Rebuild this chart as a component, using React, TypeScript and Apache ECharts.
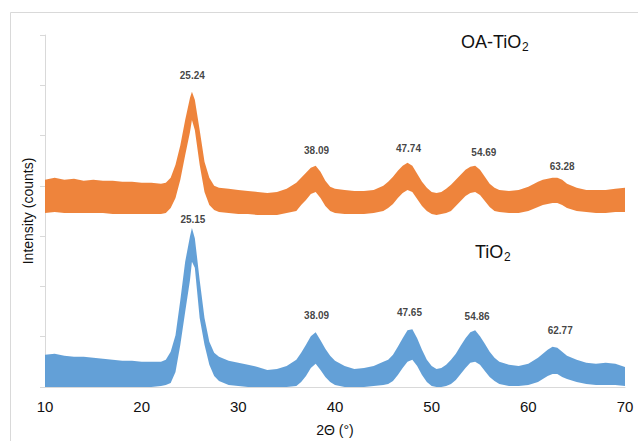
import React, { useEffect, useRef } from "react";
import * as echarts from "echarts";

// 2θ sample positions (degrees)
const twoTheta = [
  10, 11, 12, 13, 14, 15, 16, 17, 18, 19, 20, 21, 22, 22.5, 23, 23.5, 24, 24.5, 25, 25.2, 25.5, 26, 26.5, 27, 27.5, 28,
  29, 30, 31, 32, 33, 34, 35, 36, 36.5, 37, 37.5, 38, 38.5, 39, 39.5, 40, 41, 42, 43, 44, 45, 45.5, 46, 46.5, 47, 47.5,
  48, 48.5, 49, 49.5, 50, 50.5, 51, 51.5, 52, 52.5, 53, 53.5, 54, 54.5, 55, 55.5, 56, 56.5, 57, 58, 59, 60, 61, 61.5,
  62, 62.5, 63, 63.5, 64, 65, 66, 67, 68, 69, 70,
];

// TiO2: upper and lower edges of the scattered band (counts)
const tio2Upper = [
  640, 660, 620, 600, 600, 580, 560, 540, 520, 520, 500, 500, 500, 540, 700, 1030, 1730, 2490, 3000, 3160, 2960, 2130, 1370, 900, 680, 600,
  520, 480, 440, 400, 340, 360, 420, 540, 680, 840, 1010, 1090, 930, 760, 620, 520, 420, 360, 380, 420, 500, 540, 640, 800, 970, 1130,
  1150, 970, 740, 540, 420, 360, 380, 440, 540, 660, 820, 970, 1090, 1130, 1010, 860, 700, 580, 500, 440, 420, 460, 580, 660,
  740, 800, 780, 700, 620, 540, 480, 460, 480, 460, 400,
];
const tio2Lower = [
  0, 0, 0, 0, 0, 0, 0, 0, 0, 0, 0, 0, 20, 40, 80, 300, 840, 1490, 2130, 2490, 2370, 1370, 840, 440, 220, 120,
  40, 20, 0, 0, 0, 0, 0, 20, 100, 220, 380, 460, 340, 200, 100, 40, 0, 0, 0, 20, 40, 60, 120, 240, 380, 500,
  540, 420, 240, 100, 20, 0, 0, 20, 60, 140, 260, 380, 480, 500, 440, 320, 200, 120, 60, 20, 20, 40, 100, 160,
  220, 260, 260, 200, 160, 100, 60, 40, 40, 40, 20,
];

// OA-TiO2: upper and lower edges of the scattered band (counts)
const oaUpper = [
  4120, 4160, 4120, 4140, 4100, 4120, 4100, 4100, 4080, 4080, 4060, 4060, 4040, 4060, 4160, 4420, 4810, 5310, 5750, 5870, 5710, 5110, 4480, 4160, 4000, 3960,
  3940, 3920, 3900, 3880, 3860, 3880, 3940, 4060, 4160, 4260, 4360, 4400, 4280, 4100, 3980, 3940, 3920, 3900, 3900, 3920, 4000, 4080, 4180, 4300, 4400, 4460,
  4400, 4240, 4080, 3960, 3880, 3860, 3880, 3940, 4020, 4120, 4220, 4320, 4380, 4400, 4320, 4180, 4040, 3960, 3920, 3900, 3920, 3980, 4080, 4120,
  4140, 4160, 4160, 4120, 4040, 3960, 3920, 3920, 3920, 3940, 3960,
];
const oaLower = [
  3460, 3480, 3460, 3460, 3460, 3460, 3460, 3440, 3440, 3440, 3440, 3440, 3440, 3460, 3560, 3760, 4120, 4610, 5070, 5310, 5110, 4420, 3880, 3620, 3520, 3480,
  3460, 3440, 3440, 3420, 3420, 3420, 3460, 3500, 3620, 3720, 3840, 3880, 3760, 3600, 3500, 3460, 3440, 3440, 3440, 3460, 3500, 3560, 3640, 3760, 3860, 3920,
  3880, 3740, 3600, 3500, 3440, 3420, 3440, 3460, 3500, 3600, 3700, 3800, 3860, 3880, 3820, 3700, 3580, 3500, 3480, 3460, 3460, 3500, 3580, 3620,
  3640, 3660, 3660, 3620, 3560, 3500, 3480, 3460, 3460, 3480, 3480,
];

// peak annotations
const oaPeakText = ["25.24", "38.09", "47.74", "54.69", "63.28"];
const oaPeakX = [25.24, 38.09, 47.6, 55.4, 63.5];
const oaPeakY = [6190, 4710, 4750, 4670, 4380];
const tio2PeakText = ["25.15", "38.09", "47.65", "54.86", "62.77"];
const tio2PeakX = [25.3, 38.1, 47.7, 54.7, 63.3];
const tio2PeakY = [3340, 1430, 1490, 1410, 1130];

const yTicks = { min: 0, max: 7000, interval: 1000 };
const xTicks = { min: 10, max: 70, interval: 10 };

const ORANGE = "#ED7D31";
const BLUE = "#5B9BD5";

function bandSeries(name: string, upper: number[], lower: number[], color: string) {
  return {
    type: "custom",
    name,
    coordinateSystem: "cartesian2d",
    data: [[twoTheta[0], upper[0]]],
    silent: true,
    renderItem: (_params: any, api: any) => {
      const top = twoTheta.map((t, i) => api.coord([t, upper[i]]));
      const bottom = twoTheta.map((t, i) => api.coord([t, lower[i]])).reverse();
      return {
        type: "polygon",
        shape: { points: top.concat(bottom) },
        style: { fill: color, opacity: 0.95 },
      };
    },
  };
}

function peakSeries(texts: string[], xs: number[], ys: number[]) {
  return {
    type: "scatter",
    symbolSize: 1,
    itemStyle: { color: "transparent" },
    data: texts.map((t, i) => ({ name: t, value: [xs[i], ys[i]] })),
    label: {
      show: true,
      position: "inside",
      formatter: (p: any) => p.name,
      fontSize: 10,
      fontWeight: "bold",
      color: "#111",
      fontFamily: "Liberation Sans, Arial, sans-serif",
    },
    silent: true,
    z: 5,
  };
}

export default function App() {
  const ref = useRef<HTMLDivElement>(null);
  useEffect(() => {
    if (!ref.current) return;
    const chart = echarts.init(ref.current, null, { renderer: "svg" });
    const font = "Liberation Sans, Arial, sans-serif";
    chart.setOption({
      animation: false,
      backgroundColor: "#fff",
      grid: { left: 45, right: 13, top: 35, bottom: 54, containLabel: false },
      xAxis: {
        type: "value",
        min: xTicks.min,
        max: xTicks.max,
        interval: xTicks.interval,
        axisLine: { show: true, lineStyle: { color: "#d9d9d9", width: 1 } },
        axisTick: { show: false },
        splitLine: { show: false },
        axisLabel: { fontSize: 15, color: "#111", margin: 12, fontFamily: font },
      },
      yAxis: {
        type: "value",
        min: yTicks.min,
        max: yTicks.max,
        interval: yTicks.interval,
        axisLine: { show: true, lineStyle: { color: "#d9d9d9", width: 1 } },
        axisTick: { show: true, length: 5, lineStyle: { color: "#d9d9d9" } },
        splitLine: { show: false },
        axisLabel: { show: false },
      },
      series: [
        bandSeries("OA-TiO2", oaUpper, oaLower, ORANGE),
        bandSeries("TiO2", tio2Upper, tio2Lower, BLUE),
        peakSeries(oaPeakText, oaPeakX, oaPeakY),
        peakSeries(tio2PeakText, tio2PeakX, tio2PeakY),
      ],
      graphic: [
        {
          type: "rect",
          shape: { x: 10.5, y: 12.5, width: 640, height: 440 },
          style: { fill: "none", stroke: "#d9d9d9", lineWidth: 1 },
          silent: true,
        },
        {
          type: "text",
          x: 461,
          y: 42,
          style: { text: "OA-TiO", font: `18px ${font}`, fill: "#111", textVerticalAlign: "middle" },
        },
        {
          type: "text",
          x: 522,
          y: 47,
          style: { text: "2", font: `12px ${font}`, fill: "#111", textVerticalAlign: "middle" },
        },
        {
          type: "text",
          x: 475,
          y: 252,
          style: { text: "TiO", font: `18px ${font}`, fill: "#111", textVerticalAlign: "middle" },
        },
        {
          type: "text",
          x: 504,
          y: 257,
          style: { text: "2", font: `12px ${font}`, fill: "#111", textVerticalAlign: "middle" },
        },
        {
          type: "text",
          x: 28,
          y: 211,
          rotation: Math.PI / 2,
          style: {
            text: "Intensity (counts)",
            font: `14px ${font}`,
            fill: "#111",
            textAlign: "center",
            textVerticalAlign: "middle",
          },
        },
        {
          type: "text",
          x: 335,
          y: 430,
          style: {
            text: "2Θ (°)",
            font: `14px ${font}`,
            fill: "#111",
            textAlign: "center",
            textVerticalAlign: "middle",
          },
        },
      ],
    });
    return () => chart.dispose();
  }, []);
  return <div ref={ref} style={{ width: 638, height: 441, position: "absolute", left: 0, top: 0 }} />;
}
